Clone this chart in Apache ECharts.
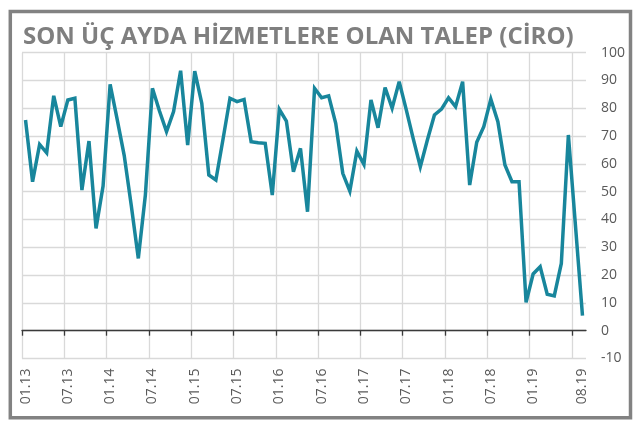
<!DOCTYPE html>
<html>
<head>
<meta charset="utf-8">
<script src="https://cdn.jsdelivr.net/npm/echarts@6/dist/echarts.min.js"></script>
<style>
  html, body { margin: 0; padding: 0; background: #fff; }
  #chart { width: 640px; height: 426px; }
</style>
</head>
<body>
<div id="chart"></div>
<script>
const titleText = 'SON ÜÇ AYDA HİZMETLERE OLAN TALEP (CİRO)';

const categories = [
  '01.13','02.13','03.13','04.13','05.13','06.13','07.13','08.13','09.13','10.13','11.13','12.13',
  '01.14','02.14','03.14','04.14','05.14','06.14','07.14','08.14','09.14','10.14','11.14','12.14',
  '01.15','02.15','03.15','04.15','05.15','06.15','07.15','08.15','09.15','10.15','11.15','12.15',
  '01.16','02.16','03.16','04.16','05.16','06.16','07.16','08.16','09.16','10.16','11.16','12.16',
  '01.17','02.17','03.17','04.17','05.17','06.17','07.17','08.17','09.17','10.17','11.17','12.17',
  '01.18','02.18','03.18','04.18','05.18','06.18','07.18','08.18','09.18','10.18','11.18','12.18',
  '01.19','02.19','03.19','04.19','05.19','06.19','07.19','08.19'
];

const demandValues = [
  75.8, 53.6, 67.0, 64.0, 84.5, 73.4, 83.0, 83.6, 50.6, 68.2, 36.8, 52.0,
  88.6, 76.0, 63.0, 45.0, 26.0, 48.8, 87.2, 79.0, 71.6, 78.8, 93.5, 66.8,
  93.4, 81.8, 56.0, 54.2, 68.7, 83.6, 82.4, 83.2, 68.0, 67.6, 67.4, 48.8,
  79.6, 75.4, 57.2, 65.6, 42.8, 87.2, 83.8, 84.5, 74.6, 56.6, 50.2, 64.6,
  59.8, 83.0, 73.0, 87.5, 80.0, 89.6, 79.5, 69.0, 59.0, 68.6, 77.6, 79.7,
  83.8, 80.6, 89.6, 52.4, 67.8, 73.4, 83.3, 75.2, 59.6, 53.6, 53.6, 10.2,
  20.4, 23.0, 13.1, 12.5, 24.2, 70.4, 38.0, 5.4
];

// labelled categories: every 6th month plus the last one
const labelIndexes = [0, 6, 12, 18, 24, 30, 36, 42, 48, 54, 60, 66, 72, 79];

// y-axis ticks
const yMin = -10, yMax = 100, yStep = 10;

// boundary positions between months (for gridlines / ticks every 6 months)
const boundaries = Array.from({ length: categories.length + 1 }, (_, i) => String(i));

const chart = echarts.init(document.getElementById('chart'), null, { renderer: 'canvas' });

const option = {
  animation: false,
  backgroundColor: '#ffffff',
  grid: { left: 22, right: 54, top: 52.7, bottom: 67.5 },
  graphic: [
    {
      type: 'rect',
      shape: { x: 10.3, y: 11.5, width: 620.2, height: 406.2 },
      style: { fill: 'none', stroke: '#828282', lineWidth: 3.5 },
      z: 10
    },
    {
      type: 'text',
      left: 23,
      top: 25,
      style: {
        text: titleText,
        font: 'bold 24px "Open Sans"',
        fill: '#7f7f7f'
      },
      z: 10
    }
  ],
  xAxis: [
    {
      type: 'category',
      data: categories,
      position: 'bottom',
      boundaryGap: true,
      axisLine: { show: false, onZero: false },
      axisTick: { show: false },
      splitLine: { show: false },
      axisLabel: {
        interval: (i) => labelIndexes.indexOf(i) !== -1,
        rotate: 90,
        margin: 10,
        fontSize: 14,
        fontFamily: 'Open Sans',
        color: '#595959'
      }
    },
    {
      type: 'category',
      data: boundaries,
      position: 'bottom',
      boundaryGap: false,
      axisLine: { show: true, onZero: true, lineStyle: { color: '#3a3a3a', width: 1.3 } },
      axisTick: { show: true, interval: (i) => i % 6 === 0, length: 5, lineStyle: { color: '#3a3a3a', width: 1.3 } },
      axisLabel: { show: false },
      splitLine: { show: true, interval: (i) => i % 6 === 0, lineStyle: { color: '#d9d9d9', width: 1.3 } }
    }
  ],
  yAxis: {
    type: 'value',
    position: 'right',
    min: yMin,
    max: yMax,
    interval: yStep,
    axisLine: { show: false },
    axisTick: { show: false },
    splitLine: { show: true, lineStyle: { color: '#d9d9d9', width: 1.3 } },
    axisLabel: {
      margin: 15,
      fontSize: 14,
      fontFamily: 'Open Sans',
      color: '#595959'
    }
  },
  series: [
    {
      type: 'line',
      xAxisIndex: 0,
      yAxisIndex: 0,
      data: demandValues,
      symbol: 'none',
      smooth: false,
      lineStyle: { color: '#18869c', width: 3.5, join: 'miter', miterLimit: 4 },
      z: 3
    }
  ]
};

chart.setOption(option);
</script>
</body>
</html>
